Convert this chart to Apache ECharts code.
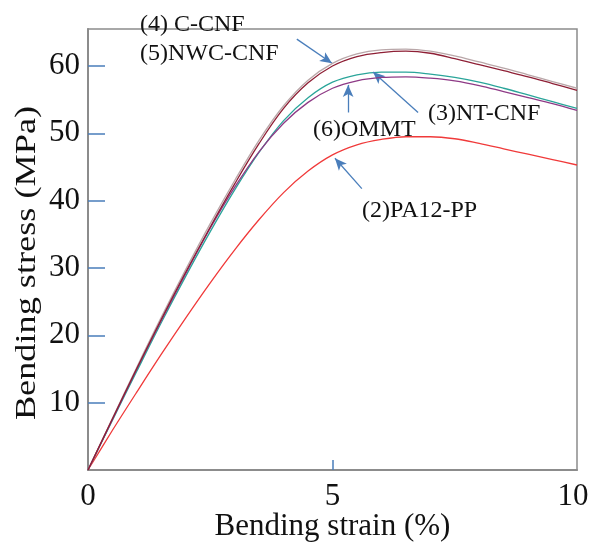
<!DOCTYPE html>
<html>
<head>
<meta charset="utf-8">
<script src="https://cdn.jsdelivr.net/npm/echarts@6/dist/echarts.min.js"></script>
<style>html,body{margin:0;padding:0;background:#fff;}#c{width:590px;height:543px;}</style>
</head>
<body>
<div id="c"></div>
<script>
// ---- data ----
const strain = [0, 0.5, 1, 1.5, 2, 2.5, 3, 3.5, 4, 4.5, 5, 5.5, 6, 6.5, 7, 7.5, 8, 8.5, 9, 9.5, 10];
const stressCCNF   = [0, 7.7, 15.3, 22.7, 29.8, 36.6, 43.0, 49.0, 54.1, 57.9, 60.4, 61.8, 62.4, 62.5, 62.2, 61.5, 60.6, 59.7, 58.7, 57.7, 56.7];
const stressNWCCNF = [0, 7.6, 15.1, 22.4, 29.4, 36.1, 42.5, 48.5, 53.7, 57.5, 60.0, 61.4, 62.0, 62.2, 61.9, 61.1, 60.2, 59.3, 58.4, 57.4, 56.4];
const stressNTCNF  = [0, 7.4, 14.7, 21.9, 28.8, 35.4, 41.6, 47.2, 51.9, 55.3, 57.6, 58.7, 59.1, 59.1, 58.8, 58.3, 57.6, 56.7, 55.7, 54.7, 53.7];
const stressOMMT   = [0, 7.5, 15.0, 22.2, 29.2, 35.9, 42.0, 47.3, 51.5, 54.6, 56.7, 57.8, 58.3, 58.4, 58.2, 57.8, 57.1, 56.2, 55.3, 54.4, 53.4];
const stressPA12PP = [0, 5.9, 11.6, 17.2, 22.6, 27.8, 32.7, 37.2, 41.2, 44.4, 46.8, 48.3, 49.1, 49.5, 49.5, 49.2, 48.5, 47.7, 46.9, 46.1, 45.3];
const xTickLabels = [0, 5, 10];
const yTickLabels = [10, 20, 30, 40, 50, 60];
const seriesNames = ['(4) C-CNF', '(5)NWC-CNF', '(3)NT-CNF', '(6)OMMT', '(2)PA12-PP'];
const xAxisTitle = 'Bending strain (%)';
const yAxisTitle = 'Bending stress (MPa)';
// annotation arrows [from, to] in data coordinates
const arrowCCNF  = [[4.27, 64.0], [4.99, 60.4]];
const arrowOMMT  = [[5.32, 53.1], [5.32, 57.2]];
const arrowNTCNF = [[6.75, 53.1], [5.83, 59.1]];
const arrowPA12  = [[5.60, 41.8], [5.05, 46.3]];

const pair = (xs, ys) => xs.map((x, i) => [x, ys[i]]);
const serif = '"Liberation Serif", "DejaVu Serif", serif';
const arrowColor = '#4a7ebb';

const chart = echarts.init(document.getElementById('c'), null, {renderer: 'canvas'});
function mkLine(name, ys, color, z) {
  return {
    name: name, type: 'line', data: pair(strain, ys), smooth: 0.35, showSymbol: false,
    lineStyle: {color: color, width: 1.3}, z: z, animation: false
  };
}
const arrowSeries = {
  type: 'line', data: [], animation: false, silent: true,
  markLine: {
    silent: true, animation: false,
    symbol: ['none', 'arrow'], symbolSize: [8, 12],
    label: {show: false},
    lineStyle: {color: arrowColor, width: 1.3, type: 'solid'},
    data: [arrowCCNF, arrowOMMT, arrowNTCNF, arrowPA12].map(a => [{coord: a[0]}, {coord: a[1]}])
  }
};
const labelText = (text, x, y) => ({
  type: 'text', left: x, top: y, z: 100,
  style: {text: text, font: '24px ' + serif, fill: '#111'}
});

chart.setOption({
  backgroundColor: '#fff',
  animation: false,
  grid: {left: 88, right: 13, top: 29, bottom: 73, outerBoundsMode: 'none', containLabel: false,
         show: true, borderColor: '#8c8c8c', borderWidth: 1.5},
  xAxis: {
    type: 'value', min: 0, max: 10, interval: 5,
    name: xAxisTitle, nameLocation: 'middle', nameGap: 41, nameMoveOverlap: false,
    nameTextStyle: {fontFamily: serif, fontSize: 31, color: '#111'},
    axisLine: {show: true, lineStyle: {color: '#8c8c8c', width: 2}},
    axisTick: {show: true, inside: true, length: 10, lineStyle: {color: '#4a7ebb', width: 1.5}, customValues: [5]},
    axisLabel: {fontFamily: serif, fontSize: 31, color: '#111', margin: 11, customValues: xTickLabels,
                formatter: v => (v === 10 ? '{r|' + v + '}' : String(v)),
                rich: {r: {fontFamily: serif, fontSize: 31, color: '#111', padding: [0, 8, 0, 0]}}},
    splitLine: {show: false}
  },
  yAxis: {
    type: 'value', min: 0, max: 65.5, interval: 10,
    axisLine: {show: true, lineStyle: {color: '#8c8c8c', width: 2}},
    axisTick: {show: true, inside: true, length: 17, lineStyle: {color: '#4a7ebb', width: 1.5}, customValues: yTickLabels},
    axisLabel: {fontFamily: serif, fontSize: 31, color: '#111', margin: 8, customValues: yTickLabels},
    splitLine: {show: false}
  },
  series: [
    mkLine(seriesNames[0], stressCCNF, '#b9a7a9', 5),
    mkLine(seriesNames[1], stressNWCCNF, '#8e1f35', 6),
    mkLine(seriesNames[2], stressNTCNF, '#2aa59a', 4),
    mkLine(seriesNames[3], stressOMMT, '#8e3a86', 5),
    mkLine(seriesNames[4], stressPA12PP, '#f03a3a', 3),
    arrowSeries
  ],
  graphic: [
    {
      type: 'text', x: 27, y: 263, rotation: Math.PI / 2, scaleX: 1.25, z: 100,
      style: {text: yAxisTitle, font: '29px ' + serif, fill: '#111', align: 'center', verticalAlign: 'middle'}
    },
    labelText(seriesNames[0], 140, 13),
    labelText(seriesNames[1], 140, 42),
    labelText(seriesNames[2], 428, 102),
    labelText(seriesNames[3], 313, 118),
    labelText(seriesNames[4], 362, 199)
  ]
});
</script>
</body>
</html>
